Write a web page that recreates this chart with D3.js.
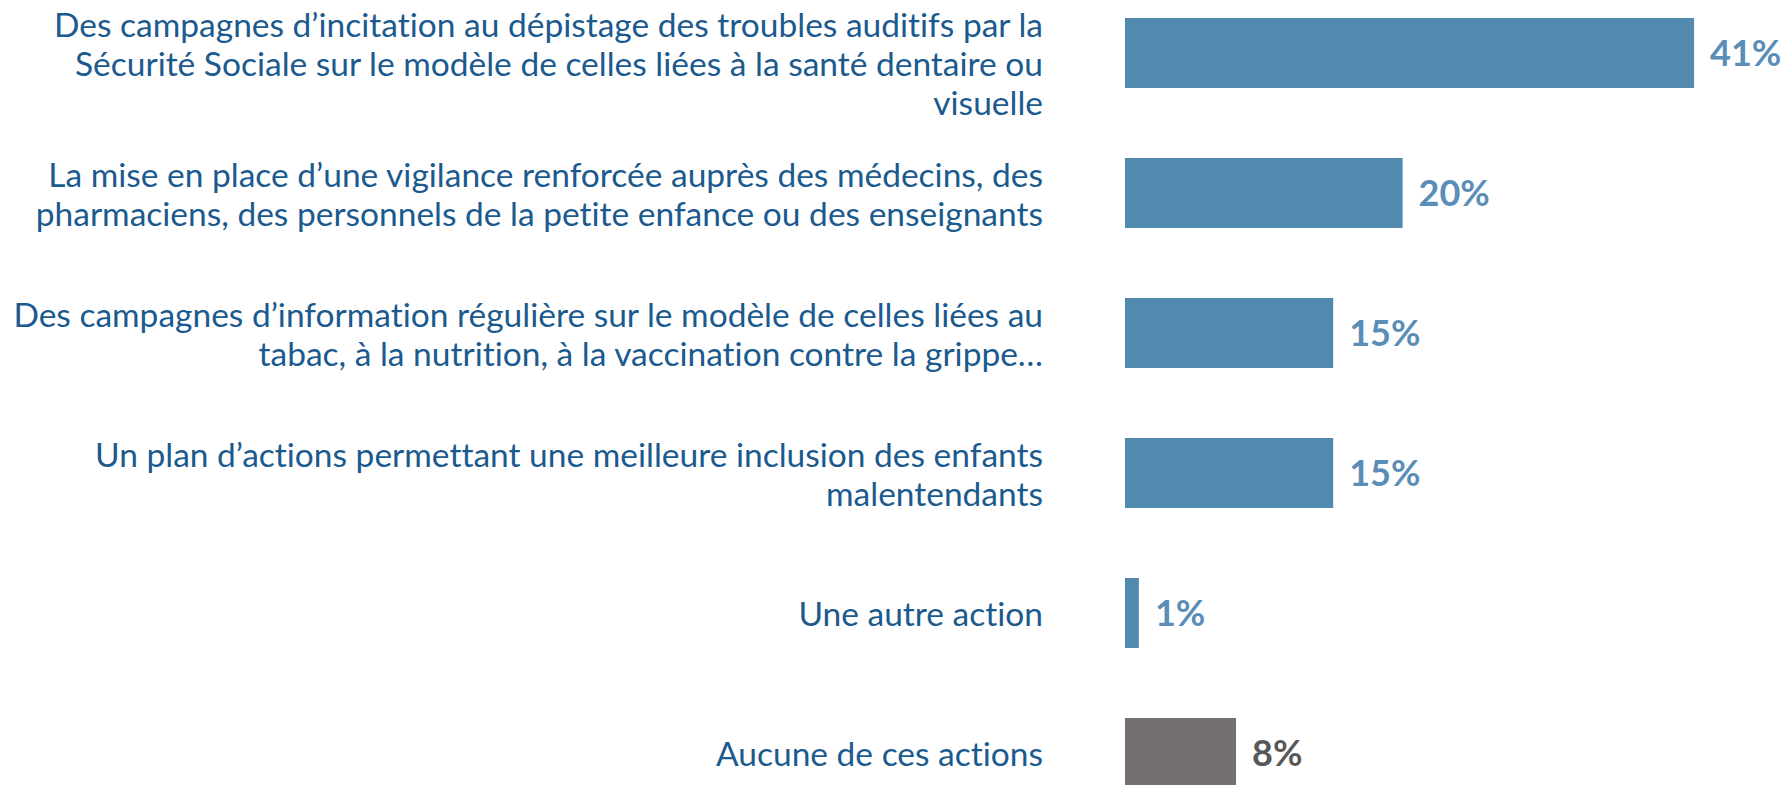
<!DOCTYPE html>
<html lang="fr">
<head>
<meta charset="utf-8">
<script src="https://cdn.jsdelivr.net/npm/d3@7"></script>
<style>
  html, body { margin: 0; padding: 0; background: #ffffff; }
  svg { display: block; }
  text { font-variant-ligatures: none; font-feature-settings: "liga" 0, "clig" 0, "dlig" 0; }
</style>
</head>
<body>
<div id="chart"></div>
<script>
// Survey answers: which actions should be taken (share of respondents, %)
const categories = [
  "Des campagnes d’incitation au dépistage des troubles auditifs par la\nSécurité Sociale sur le modèle de celles liées à la santé dentaire ou\nvisuelle",
  "La mise en place d’une vigilance renforcée auprès des médecins, des\npharmaciens, des personnels de la petite enfance ou des enseignants",
  "Des campagnes d’information régulière sur le modèle de celles liées au\ntabac, à la nutrition, à la vaccination contre la grippe…",
  "Un plan d’actions permettant une meilleure inclusion des enfants\nmalentendants",
  "Une autre action",
  "Aucune de ces actions"
];
const values = [41, 20, 15, 15, 1, 8];
const groups = ["action", "action", "action", "action", "action", "none"];

const width = 1788, height = 785;
const barLeft = 1125;
const labelRight = 1043;

const barColor = d3.scaleOrdinal().domain(["action", "none"]).range(["#5289ae", "#757070"]);
const valueColor = d3.scaleOrdinal().domain(["action", "none"]).range(["#5a8db7", "#585858"]);

const svg = d3.select("#chart").append("svg")
  .attr("width", width)
  .attr("height", height);

const x = d3.scaleLinear().domain([0, 100]).range([barLeft, barLeft + 1388]);

const y = d3.scaleBand()
  .domain(categories)
  .range([-17, 823])
  .paddingInner(0.5)
  .paddingOuter(0.25);

const rows = categories.map((c, i) => ({ cat: c, value: values[i], group: groups[i] }));

// bars
svg.append("g").selectAll("rect")
  .data(rows)
  .join("rect")
  .attr("x", x(0))
  .attr("y", d => y(d.cat))
  .attr("width", d => x(d.value) - x(0))
  .attr("height", y.bandwidth())
  .attr("fill", d => barColor(d.group));

// value labels
svg.append("g").selectAll("text")
  .data(rows)
  .join("text")
  .attr("x", d => x(d.value) + 16)
  .attr("y", d => y(d.cat) + y.bandwidth() / 2)
  .attr("dy", "0.36em")
  .attr("font-family", "Lato, 'Open Sans', sans-serif")
  .attr("font-weight", 700)
  .attr("font-size", 36)
  .attr("fill", d => valueColor(d.group))
  .text(d => d.value + "%");

// category labels, right-aligned, centred on their bar
const lineHeight = 39;
const capHalf = 13;
const minFirstBaseline = 37;
const labels = svg.append("g")
  .attr("font-family", "Lato, 'Open Sans', sans-serif")
  .attr("font-size", 33.5)
  .attr("fill", "#1b5a8e")
  .attr("text-anchor", "end");

rows.forEach(d => {
  const lines = d.cat.split("\n");
  const mid = y(d.cat) + y.bandwidth() / 2;
  let first = mid + capHalf - (lines.length - 1) * lineHeight / 2;
  first = Math.max(first, minFirstBaseline);
  const t = labels.append("text").attr("x", labelRight).attr("y", first);
  lines.forEach((ln, i) => {
    t.append("tspan")
      .attr("x", labelRight)
      .attr("y", first + i * lineHeight)
      .text(ln);
  });
});
</script>
</body>
</html>
